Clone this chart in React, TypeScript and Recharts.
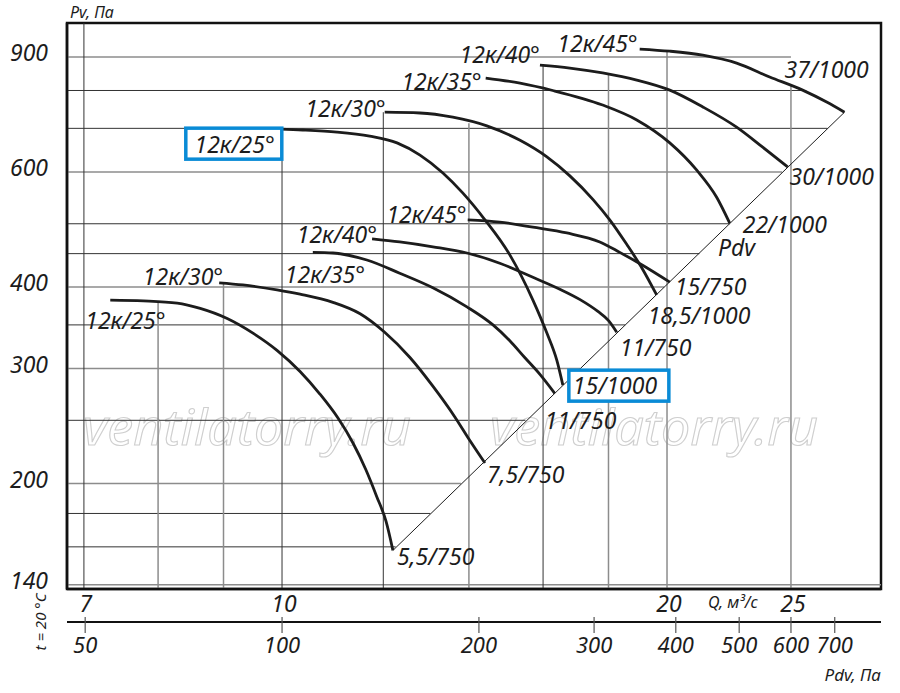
import React from 'react';
import {
  ComposedChart,
  Line,
  XAxis,
  YAxis,
  ReferenceLine,
  ReferenceArea,
  ReferenceDot,
} from 'recharts';

const FONT = '"Noto Sans", "DejaVu Sans", sans-serif';
const INK = '#1c1c1c';
const GRID_DARK = '#333';
const GRID_GRAY = '#8c8c8c';
const BLUE = '#0a8bd6';

// axis ranges
const Q_MIN = 6.79;
const Q_MAX = 29.4;
const P_MIN = 137.9;
const P_MAX = 1015;
const PDV_MIN = 46.9;
const PDV_MAX = 823.8;

const qTicks = [7, 10, 20, 25];
const pTicks = [140, 200, 300, 400, 600, 900];
const pdvTicks = [50, 100, 200, 300, 400, 500, 600, 700];

// 1000 rpm
const k25_1000 = [
  { q: 9.96, p: 698 }, { q: 10.38, p: 696 }, { q: 11.04, p: 691 }, { q: 11.71, p: 681 },
  { q: 12.3, p: 665 }, { q: 12.82, p: 637 }, { q: 13.36, p: 598 }, { q: 13.85, p: 557 },
  { q: 14.41, p: 507 }, { q: 15.07, p: 448 }, { q: 15.71, p: 382 }, { q: 16.11, p: 340 },
  { q: 16.4, p: 309 }, { q: 16.58, p: 283 },
];
const k30_1000 = [
  { q: 12.03, p: 741 }, { q: 12.82, p: 739 }, { q: 13.6, p: 728 }, { q: 14.46, p: 706 },
  { q: 15.35, p: 671 }, { q: 16.11, p: 633 }, { q: 16.79, p: 592 }, { q: 17.5, p: 545 },
  { q: 18.04, p: 507 }, { q: 18.6, p: 465 }, { q: 19.14, p: 426 }, { q: 19.63, p: 389 },
];
const k35_1000 = [
  { q: 14.43, p: 836 }, { q: 15.35, p: 821 }, { q: 16.28, p: 800 }, { q: 17.81, p: 760 },
  { q: 18.94, p: 721 }, { q: 20.1, p: 665 }, { q: 21.1, p: 604 }, { q: 21.87, p: 549 },
  { q: 22.39, p: 501 },
];
const k40_1000 = [
  { q: 15.91, p: 875 }, { q: 16.79, p: 866 }, { q: 17.81, p: 851 }, { q: 18.94, p: 830 },
  { q: 20.1, p: 801 }, { q: 21.33, p: 755 }, { q: 22.67, p: 703 }, { q: 23.76, p: 655 },
  { q: 24.85, p: 611 },
];
const k45_1000 = [
  { q: 19.04, p: 926 }, { q: 20.1, p: 919 }, { q: 21.33, p: 906 }, { q: 22.67, p: 881 },
  { q: 24.06, p: 839 }, { q: 25.53, p: 801 }, { q: 26.66, p: 768 }, { q: 27.53, p: 741 },
];

// 750 rpm
const k25_750 = [
  { q: 7.34, p: 382 }, { q: 7.79, p: 381 }, { q: 8.28, p: 378 }, { q: 8.63, p: 371 },
  { q: 9.06, p: 358 }, { q: 9.49, p: 340 }, { q: 9.91, p: 320 }, { q: 10.33, p: 297 },
  { q: 10.71, p: 274 }, { q: 11.06, p: 252 }, { q: 11.36, p: 231 }, { q: 11.63, p: 210 },
  { q: 11.86, p: 191 }, { q: 12.06, p: 175 }, { q: 12.21, p: 158 },
];
const k30_750 = [
  { q: 8.93, p: 406 }, { q: 9.32, p: 403 }, { q: 9.91, p: 396 }, { q: 10.33, p: 390 },
  { q: 10.96, p: 379 }, { q: 11.51, p: 364 }, { q: 12.03, p: 341 }, { q: 12.59, p: 312 },
  { q: 13.12, p: 282 }, { q: 13.65, p: 253 }, { q: 14.02, p: 233 }, { q: 14.41, p: 215 },
];
const k35_750 = [
  { q: 10.57, p: 452 }, { q: 10.96, p: 451 }, { q: 11.65, p: 440 }, { q: 12.36, p: 420 },
  { q: 13.12, p: 399 }, { q: 13.95, p: 373 }, { q: 14.62, p: 350 }, { q: 15.07, p: 331 },
  { q: 15.48, p: 312 }, { q: 15.91, p: 294 }, { q: 16.34, p: 275 },
];
const k40_750 = [
  { q: 11.76, p: 474 }, { q: 12.36, p: 469 }, { q: 13.12, p: 461 }, { q: 13.95, p: 451 },
  { q: 14.8, p: 435 }, { q: 15.71, p: 414 }, { q: 16.49, p: 397 }, { q: 17.09, p: 383 },
  { q: 17.66, p: 367 }, { q: 18.01, p: 355 }, { q: 18.27, p: 341 },
];
const k45_750 = [
  { q: 13.97, p: 507 }, { q: 14.8, p: 503 }, { q: 15.71, p: 494 }, { q: 16.7, p: 484 },
  { q: 17.72, p: 469 }, { q: 18.37, p: 452 }, { q: 19.14, p: 432 }, { q: 20.1, p: 407 },
];

// Pdv line through the curve ends
const pdvLine = [{ q: 12.21, p: 158 }, { q: 27.53, p: 741 }];

// grid: horizontal lines run from the left edge to qEnd, vertical ones from the bottom up to pTop
const hGrid = [
  { p: 900, qEnd: 25 }, { p: 800, qEnd: 25.7 }, { p: 700, qEnd: 26.7 }, { p: 600, qEnd: 24.6 },
  { p: 500, qEnd: 22.4 }, { p: 450, qEnd: 21.2 }, { p: 400, qEnd: 19.9 }, { p: 350, qEnd: 18.55 },
  { p: 300, qEnd: 17.1 }, { p: 250, qEnd: 15.5 }, { p: 200, qEnd: 13.8 }, { p: 180, qEnd: 13.06 },
  { p: 160, qEnd: 12.27 }, { p: 140, qEnd: Q_MAX },
];
const vGrid = [
  { q: 7, pTop: P_MAX }, { q: 8, pTop: 379 }, { q: 9, pTop: 406 }, { q: 10, pTop: 698 },
  { q: 12, pTop: 741 }, { q: 14, pTop: 713 }, { q: 16, pTop: 875 }, { q: 18, pTop: 848 },
  { q: 20, pTop: 922 }, { q: 25, pTop: 815 },
];
const darkH = [800, 700, 500, 450, 350, 250, 180, 160];
const darkV = [7, 10, 12, 16];

type Tag = { dx: number; dy: number; anchor: 'start' | 'end'; box?: number[] };

const curves: { name: string; motor: string; data: { q: number; p: number }[]; nameTag: Tag; motorTag: Tag }[] = [
  { name: '12к/25°', motor: '15/1000', data: k25_1000,
    nameTag: { dx: -5, dy: 24, anchor: 'end', box: [-94, -1, 96, 31] },
    motorTag: { dx: 10, dy: 9, anchor: 'start', box: [6, -15, 100, 31] } },
  { name: '12к/30°', motor: '18,5/1000', data: k30_1000,
    nameTag: { dx: 1, dy: 5, anchor: 'end' }, motorTag: { dx: -9, dy: 29, anchor: 'start' } },
  { name: '12к/35°', motor: '22/1000', data: k35_1000,
    nameTag: { dx: -4, dy: 12, anchor: 'end' }, motorTag: { dx: 13, dy: 10, anchor: 'start' } },
  { name: '12к/40°', motor: '30/1000', data: k40_1000,
    nameTag: { dx: 0, dy: -2, anchor: 'end' }, motorTag: { dx: 2, dy: 18, anchor: 'start' } },
  { name: '12к/45°', motor: '37/1000', data: k45_1000,
    nameTag: { dx: -2, dy: 3, anchor: 'end' }, motorTag: { dx: -60, dy: -34, anchor: 'start' } },
  { name: '12к/25°', motor: '5,5/750', data: k25_750,
    nameTag: { dx: -25, dy: 29, anchor: 'start' }, motorTag: { dx: 4, dy: 15, anchor: 'start' } },
  { name: '12к/30°', motor: '7,5/750', data: k30_750,
    nameTag: { dx: 4, dy: 2, anchor: 'end' }, motorTag: { dx: 2, dy: 20, anchor: 'start' } },
  { name: '12к/35°', motor: '11/750', data: k35_750,
    nameTag: { dx: -28, dy: 31, anchor: 'start' }, motorTag: { dx: -10, dy: 36, anchor: 'start' } },
  { name: '12к/40°', motor: '11/750', data: k40_750,
    nameTag: { dx: 5, dy: 4, anchor: 'end' }, motorTag: { dx: 3, dy: 24, anchor: 'start' } },
  { name: '12к/45°', motor: '15/750', data: k45_750,
    nameTag: { dx: -1, dy: 3, anchor: 'end' }, motorTag: { dx: 5, dy: 13, anchor: 'start' } },
];

// helper rows that only carry the Pdv axis domain (drawn with no stroke)
const pdvAxisRows = pdvTicks.map((v) => ({ pdv: v, p: P_MIN }));

const textStyle = { fontFamily: FONT, fontStyle: 'italic', fill: INK } as const;

function tagShape(text: string, tag: Tag) {
  return (props: any) => {
    const { cx, cy } = props;
    return (
      <g>
        {tag.box && (
          <rect
            x={cx + tag.box[0]}
            y={cy + tag.box[1]}
            width={tag.box[2]}
            height={tag.box[3]}
            fill="#fff"
            stroke={BLUE}
            strokeWidth={3.5}
          />
        )}
        <text x={cx + tag.dx} y={cy + tag.dy} textAnchor={tag.anchor} fontSize={23} {...textStyle}>
          {text}
        </text>
      </g>
    );
  };
}

const YTick = (props: any) => {
  const { x, y, payload } = props;
  return (
    <text x={x - 19} y={y + 4} textAnchor="end" fontSize={23} {...textStyle}>
      {payload.value}
    </text>
  );
};

const QTick = (props: any) => {
  const { x, y, payload } = props;
  return (
    <text x={x + 2} y={y + 23} textAnchor="middle" fontSize={23} {...textStyle}>
      {payload.value}
    </text>
  );
};

const PdvTick = (props: any) => {
  const { x, y, payload } = props;
  return (
    <g>
      <line x1={x} x2={x} y1={y - 5} y2={y + 11} stroke="#555" strokeWidth={1.2} />
      <text x={x} y={y + 31} textAnchor="middle" fontSize={22} {...textStyle}>
        {payload.value}
      </text>
    </g>
  );
};

export default function App() {
  return (
    <div style={{ position: 'absolute', left: 0, top: 0, width: 900, height: 693, background: '#fff' }}>
      <svg width={900} height={693} style={{ position: 'absolute', left: 0, top: 0 }}>
        {[83, 490].map((x) => (
          <text
            key={x}
            x={x}
            y={445}
            fontSize={50}
            fontFamily={FONT}
            fontStyle="italic"
            fill="none"
            stroke="#cfcfcf"
            strokeWidth={1.1}
            textLength={328}
            lengthAdjust="spacingAndGlyphs"
          >
            ventilatorry.ru
          </text>
        ))}
      </svg>
      <div style={{ position: 'absolute', left: 0, top: 0 }}>
        <ComposedChart width={900} height={693} margin={{ top: 23, right: 19, bottom: 21, left: 0 }}>
          <XAxis
            dataKey="q"
            type="number"
            scale="log"
            domain={[Q_MIN, Q_MAX]}
            allowDataOverflow
            ticks={qTicks}
            height={33}
            tickSize={0}
            tickMargin={0}
            tickLine={false}
            axisLine={{ stroke: '#111', strokeWidth: 2.5 }}
            tick={QTick}
          />
          <XAxis
            xAxisId="pdv"
            dataKey="pdv"
            type="number"
            scale="log"
            domain={[PDV_MIN, PDV_MAX]}
            allowDataOverflow
            ticks={pdvTicks}
            height={50}
            tickSize={0}
            tickMargin={0}
            tickLine={false}
            axisLine={{ stroke: '#111', strokeWidth: 2 }}
            tick={PdvTick}
          />
          <YAxis
            type="number"
            scale="log"
            domain={[P_MIN, P_MAX]}
            allowDataOverflow
            ticks={pTicks}
            width={67}
            tickSize={0}
            tickMargin={0}
            tickLine={false}
            axisLine={{ stroke: '#111', strokeWidth: 2.5 }}
            tick={YTick}
          />
          {hGrid.map((g) => (
            <ReferenceLine
              key={'h' + g.p}
              segment={[{ x: Q_MIN, y: g.p }, { x: g.qEnd, y: g.p }]}
              stroke={darkH.includes(g.p) ? GRID_DARK : GRID_GRAY}
              strokeWidth={darkH.includes(g.p) ? 1 : 1.5}
              ifOverflow="visible"
            />
          ))}
          {vGrid.map((g) => (
            <ReferenceLine
              key={'v' + g.q}
              segment={[{ x: g.q, y: P_MIN }, { x: g.q, y: g.pTop }]}
              stroke={darkV.includes(g.q) ? GRID_DARK : GRID_GRAY}
              strokeWidth={darkV.includes(g.q) ? 1 : 1.5}
              ifOverflow="visible"
            />
          ))}
          <ReferenceArea
            x1={Q_MIN}
            x2={Q_MAX}
            y1={P_MIN}
            y2={P_MAX}
            fill="none"
            fillOpacity={0}
            stroke="#111"
            strokeWidth={2.5}
            ifOverflow="visible"
          />
          <Line
            xAxisId="pdv"
            data={pdvAxisRows}
            dataKey="p"
            stroke="none"
            dot={false}
            activeDot={false}
            legendType="none"
            isAnimationActive={false}
          />
          <Line
            data={pdvLine}
            dataKey="p"
            type="linear"
            dot={false}
            stroke={INK}
            strokeWidth={1}
            isAnimationActive={false}
          />
          {curves.map((c, i) => (
            <Line
              key={'c' + i}
              data={c.data}
              dataKey="p"
              type="monotone"
              dot={false}
              stroke={INK}
              strokeWidth={2.8}
              isAnimationActive={false}
            />
          ))}
          {curves.map((c, i) => (
            <ReferenceDot
              key={'n' + i}
              x={c.data[0].q}
              y={c.data[0].p}
              r={1}
              ifOverflow="visible"
              shape={tagShape(c.name, c.nameTag)}
            />
          ))}
          {curves.map((c, i) => (
            <ReferenceDot
              key={'m' + i}
              x={c.data[c.data.length - 1].q}
              y={c.data[c.data.length - 1].p}
              r={1}
              ifOverflow="visible"
              shape={tagShape(c.motor, c.motorTag)}
            />
          ))}
        </ComposedChart>
      </div>
      <svg width={900} height={693} style={{ position: 'absolute', left: 0, top: 0, pointerEvents: 'none' }}>
        <text x={70} y={18} fontSize={16} {...textStyle}>Pv, Па</text>
        <text x={708} y={608} fontSize={16} {...textStyle}>Q, м³/с</text>
        <text x={881} y={681} fontSize={17} textAnchor="end" {...textStyle}>Pdv, Па</text>
        <text x={718} y={256} fontSize={23} {...textStyle}>Pdv</text>
        <text
          x={0}
          y={0}
          fontSize={15}
          textAnchor="middle"
          transform="translate(46 622) rotate(-90)"
          {...textStyle}
        >
          t = 20 °C
        </text>
      </svg>
    </div>
  );
}
